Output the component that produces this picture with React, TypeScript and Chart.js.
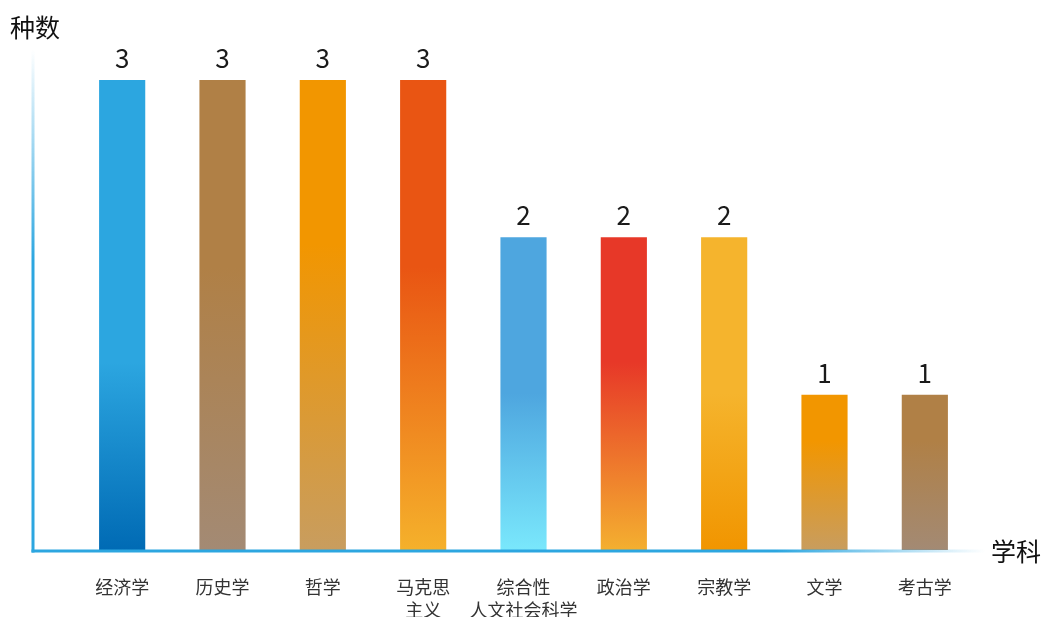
import React, { useEffect, useRef } from "react";
import { Chart, registerables } from "chart.js";

Chart.register(...registerables);

const categories: string[][] = [
  ["经济学"],
  ["历史学"],
  ["哲学"],
  ["马克思", "主义"],
  ["综合性", "人文社会科学"],
  ["政治学"],
  ["宗教学"],
  ["文学"],
  ["考古学"],
];
const counts: number[] = [3, 3, 3, 3, 2, 2, 2, 1, 1];
const yAxisTitle = "种数";
const xAxisTitle = "学科";

const topColors = ["#2ca6e0", "#b08046", "#f29600", "#e95513", "#4ea6df", "#e73828", "#f5b42d", "#f29600", "#b08046"];
const bottomColors = ["#006ab4", "#a38a74", "#c89d5f", "#f5b12b", "#7ae8fc", "#f4b030", "#f19500", "#c89d5f", "#a38a74"];
const solidUntil = [0.6, 0.4, 0.35, 0.4, 0.5, 0.4, 0.5, 0.3, 0.3];

const FONT = '"Noto Sans CJK SC", "Noto Sans", sans-serif';
const AXIS_BLUE = "44,166,224";

const decorPlugin = {
  id: "decor",
  afterDatasetsDraw(chart: any) {
    const { ctx } = chart;
    const xs = chart.scales.x;
    const ys = chart.scales.y;
    const axisX = 33;
    const baseY = ys.getPixelForValue(0);
    ctx.save();
    // y axis line with fade at top
    const gy = ctx.createLinearGradient(0, 50, 0, 260);
    gy.addColorStop(0, `rgba(${AXIS_BLUE},0)`);
    gy.addColorStop(1, `rgba(${AXIS_BLUE},1)`);
    ctx.strokeStyle = gy;
    ctx.lineWidth = 3;
    ctx.beginPath();
    ctx.moveTo(axisX, 50);
    ctx.lineTo(axisX, baseY + 1.5);
    ctx.stroke();
    // x axis line with fade at right
    const gx = ctx.createLinearGradient(axisX, 0, 985, 0);
    gx.addColorStop(0, `rgba(${AXIS_BLUE},1)`);
    gx.addColorStop(0.78, `rgba(${AXIS_BLUE},1)`);
    gx.addColorStop(1, `rgba(${AXIS_BLUE},0)`);
    ctx.strokeStyle = gx;
    ctx.beginPath();
    ctx.moveTo(axisX - 1.5, baseY);
    ctx.lineTo(985, baseY);
    ctx.stroke();

    // value labels
    const meta = chart.getDatasetMeta(0);
    ctx.fillStyle = "#1a1a1a";
    ctx.font = `26px ${FONT}`;
    ctx.textAlign = "center";
    ctx.textBaseline = "alphabetic";
    meta.data.forEach((bar: any, i: number) => {
      ctx.fillText(String(counts[i]), bar.x, bar.y - 11);
    });

    // category labels
    ctx.fillStyle = "#333";
    ctx.font = `18px ${FONT}`;
    ctx.textBaseline = "middle";
    categories.forEach((lines, i) => {
      const x = xs.getPixelForValue(i);
      lines.forEach((t, j) => {
        ctx.fillText(t, x, baseY + 36 + j * 23);
      });
    });

    // axis titles
    ctx.fillStyle = "#111";
    ctx.font = `25px ${FONT}`;
    ctx.textAlign = "left";
    ctx.fillText(yAxisTitle, 10, 27);
    ctx.fillText(xAxisTitle, 991, baseY);
    ctx.restore();
  },
};

export default function App() {
  const ref = useRef<HTMLCanvasElement>(null);
  useEffect(() => {
    document.body.style.margin = "0";
    const canvas = ref.current!;
    const chart = new Chart(canvas, {
      type: "bar",
      data: {
        labels: categories.map((c) => c.join("")),
        datasets: [
          {
            data: counts,
            barPercentage: 0.48,
            categoryPercentage: 1,
            borderWidth: 1,
            borderColor: "rgba(255,255,255,0.3)",
            borderSkipped: false,
            backgroundColor: (c: any) => {
              const i = c.dataIndex;
              const chart = c.chart;
              if (!chart.chartArea || i === undefined) return topColors[i ?? 0];
              const ys = chart.scales.y;
              const top = ys.getPixelForValue(counts[i]);
              const bottom = ys.getPixelForValue(0);
              const g = chart.ctx.createLinearGradient(0, top, 0, bottom);
              g.addColorStop(0, topColors[i]);
              g.addColorStop(solidUntil[i], topColors[i]);
              g.addColorStop(1, bottomColors[i]);
              return g;
            },
          },
        ],
      },
      options: {
        animation: false,
        responsive: false,
        devicePixelRatio: 1,
        layout: { padding: { left: 72, right: 68, top: 79, bottom: 66 } },
        plugins: { legend: { display: false }, tooltip: { enabled: false } },
        scales: {
          x: { display: false },
          y: { display: false, min: 0, max: 3 },
        },
      },
      plugins: [decorPlugin],
    });
    return () => chart.destroy();
  }, []);
  return (
    <div style={{ width: 1043, height: 617, background: "#fff" }}>
      <canvas ref={ref} width={1043} height={617} style={{ display: "block" }} />
    </div>
  );
}
